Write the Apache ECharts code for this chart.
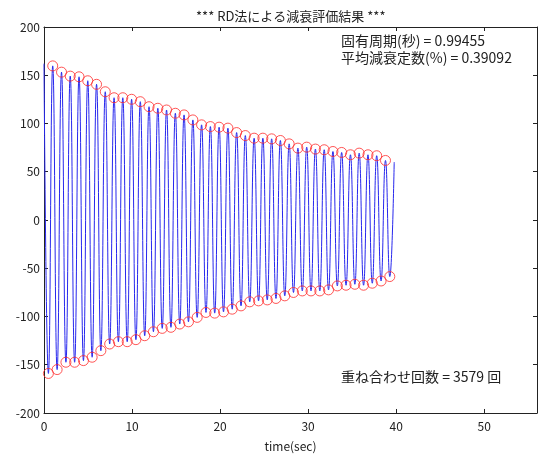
<!DOCTYPE html>
<html>
<head>
<meta charset="utf-8">
<script src="https://cdn.jsdelivr.net/npm/echarts@6/dist/echarts.min.js"></script>
<style>
  html, body { margin: 0; padding: 0; background: #fff; }
  #main { width: 538px; height: 457px; }
</style>
</head>
<body>
<div id="main"></div>
<script>
var FONT = "'Noto Sans CJK JP', 'Noto Sans', sans-serif";

// peaks (red circles, top)
var peakTimes = [0.99, 1.99, 2.98, 3.98, 4.97, 5.97, 6.96, 7.96, 8.95, 9.95,
  10.94, 11.93, 12.93, 13.92, 14.92, 15.91, 16.91, 17.90, 18.90, 19.89,
  20.89, 21.88, 22.87, 23.87, 24.86, 25.86, 26.85, 27.85, 28.84, 29.84,
  30.83, 31.83, 32.82, 33.81, 34.81, 35.80, 36.80, 37.79, 38.79];
var peakValues = [159.7, 153.2, 149.1, 148.4, 144.3, 140.6, 132.9, 126.7, 126.7, 125.1,
  122.6, 117.4, 115.8, 114.0, 110.6, 108.9, 103.7, 98.6, 96.8, 96.2,
  95.2, 90.6, 87.5, 84.8, 84.8, 84.1, 82.4, 78.9, 74.5, 75.5,
  73.5, 72.8, 71.0, 70.0, 67.6, 69.3, 67.6, 66.6, 61.7];

// troughs (red circles, bottom)
var troughTimes = [0.50, 1.49, 2.49, 3.48, 4.48, 5.47, 6.46, 7.46, 8.45, 9.45,
  10.44, 11.44, 12.43, 13.43, 14.42, 15.42, 16.41, 17.40, 18.40, 19.39,
  20.39, 21.38, 22.38, 23.37, 24.37, 25.36, 26.35, 27.35, 28.34, 29.34,
  30.33, 31.33, 32.32, 33.32, 34.31, 35.31, 36.30, 37.29, 38.29, 39.28];
var troughValues = [-159.0, -155.0, -147.4, -147.4, -145.7, -142.2, -135.4, -128.5, -126.1, -126.1,
  -124.0, -119.9, -115.8, -112.3, -111.2, -107.8, -105.5, -100.9, -95.8, -96.5,
  -95.2, -92.4, -89.0, -84.8, -83.8, -82.8, -81.3, -78.6, -75.1, -73.5,
  -73.5, -73.5, -72.4, -68.3, -67.6, -66.6, -67.6, -65.5, -63.2, -58.6];

// waveform start / end points
var startPoint = [0, 162];
var endPoint = [39.78, 60];

var xTicks = { min: 0, max: 56, interval: 10 };
var yTicks = { min: -200, max: 200, interval: 50 };

var wave = [startPoint];
for (var i = 0; i < troughTimes.length; i++) {
  wave.push([troughTimes[i], troughValues[i]]);
  if (i < peakTimes.length) wave.push([peakTimes[i], peakValues[i]]);
}
wave.push(endPoint);

var circles = [];
for (var i = 0; i < peakTimes.length; i++) circles.push([peakTimes[i], peakValues[i]]);
for (var i = 0; i < troughTimes.length; i++) circles.push([troughTimes[i], troughValues[i]]);

var myChart = echarts.init(document.getElementById('main'), null, { renderer: 'canvas' });

function axisBase(showLabel) {
  return {
    type: 'value',
    axisLine: { show: true, onZero: false, lineStyle: { color: '#222', width: 1 } },
    axisTick: { show: true, inside: true, length: 4, lineStyle: { color: '#222' } },
    splitLine: { show: false },
    axisLabel: { show: showLabel, color: '#222', fontSize: 12, fontFamily: FONT, showMaxLabel: false }
  };
}

var xBottom = axisBase(true);
xBottom.min = xTicks.min; xBottom.max = xTicks.max; xBottom.interval = xTicks.interval;
xBottom.position = 'bottom';
xBottom.name = 'time(sec)';
xBottom.nameLocation = 'middle';
xBottom.nameGap = 27;
xBottom.nameTextStyle = { color: '#222', fontSize: 12, fontFamily: FONT };
xBottom.axisLabel.margin = 7;

var xTop = axisBase(false);
xTop.min = xTicks.min; xTop.max = xTicks.max; xTop.interval = xTicks.interval;
xTop.position = 'top';

var yLeft = axisBase(true);
yLeft.min = yTicks.min; yLeft.max = yTicks.max; yLeft.interval = yTicks.interval;
yLeft.position = 'left';
yLeft.axisLabel.showMaxLabel = true;
yLeft.axisLabel.margin = 4;

var yRight = axisBase(false);
yRight.min = yTicks.min; yRight.max = yTicks.max; yRight.interval = yTicks.interval;
yRight.position = 'right';

var option = {
  backgroundColor: '#fff',
  animation: false,
  title: {
    text: '*** RD法による減衰評価結果 ***',
    left: 191,
    top: 5,
    textStyle: { color: '#222', fontSize: 13, fontWeight: 'normal', fontFamily: FONT }
  },
  grid: { left: 44, right: 1, top: 27, bottom: 43 },
  xAxis: [xBottom, xTop],
  yAxis: [yLeft, yRight],
  graphic: [
    { type: 'text', left: 341, top: 34, style: { text: '固有周期(秒) = 0.99455', fill: '#222', font: '14px ' + FONT } },
    { type: 'text', left: 341, top: 51, style: { text: '平均減衰定数(%) = 0.39092', fill: '#222', font: '14px ' + FONT } },
    { type: 'text', left: 341, top: 370, style: { text: '重ね合わせ回数 = 3579 回', fill: '#222', font: '14px ' + FONT } }
  ],
  series: [
    {
      type: 'line',
      data: wave,
      smooth: true,
      showSymbol: false,
      lineStyle: { color: '#2727ee', width: 1 },
      z: 2
    },
    {
      type: 'scatter',
      data: circles,
      symbol: 'circle',
      symbolSize: 10,
      itemStyle: { color: 'rgba(0,0,0,0)', borderColor: '#ff2a2a', borderWidth: 1 },
      z: 3
    }
  ]
};

myChart.setOption(option);
</script>
</body>
</html>
